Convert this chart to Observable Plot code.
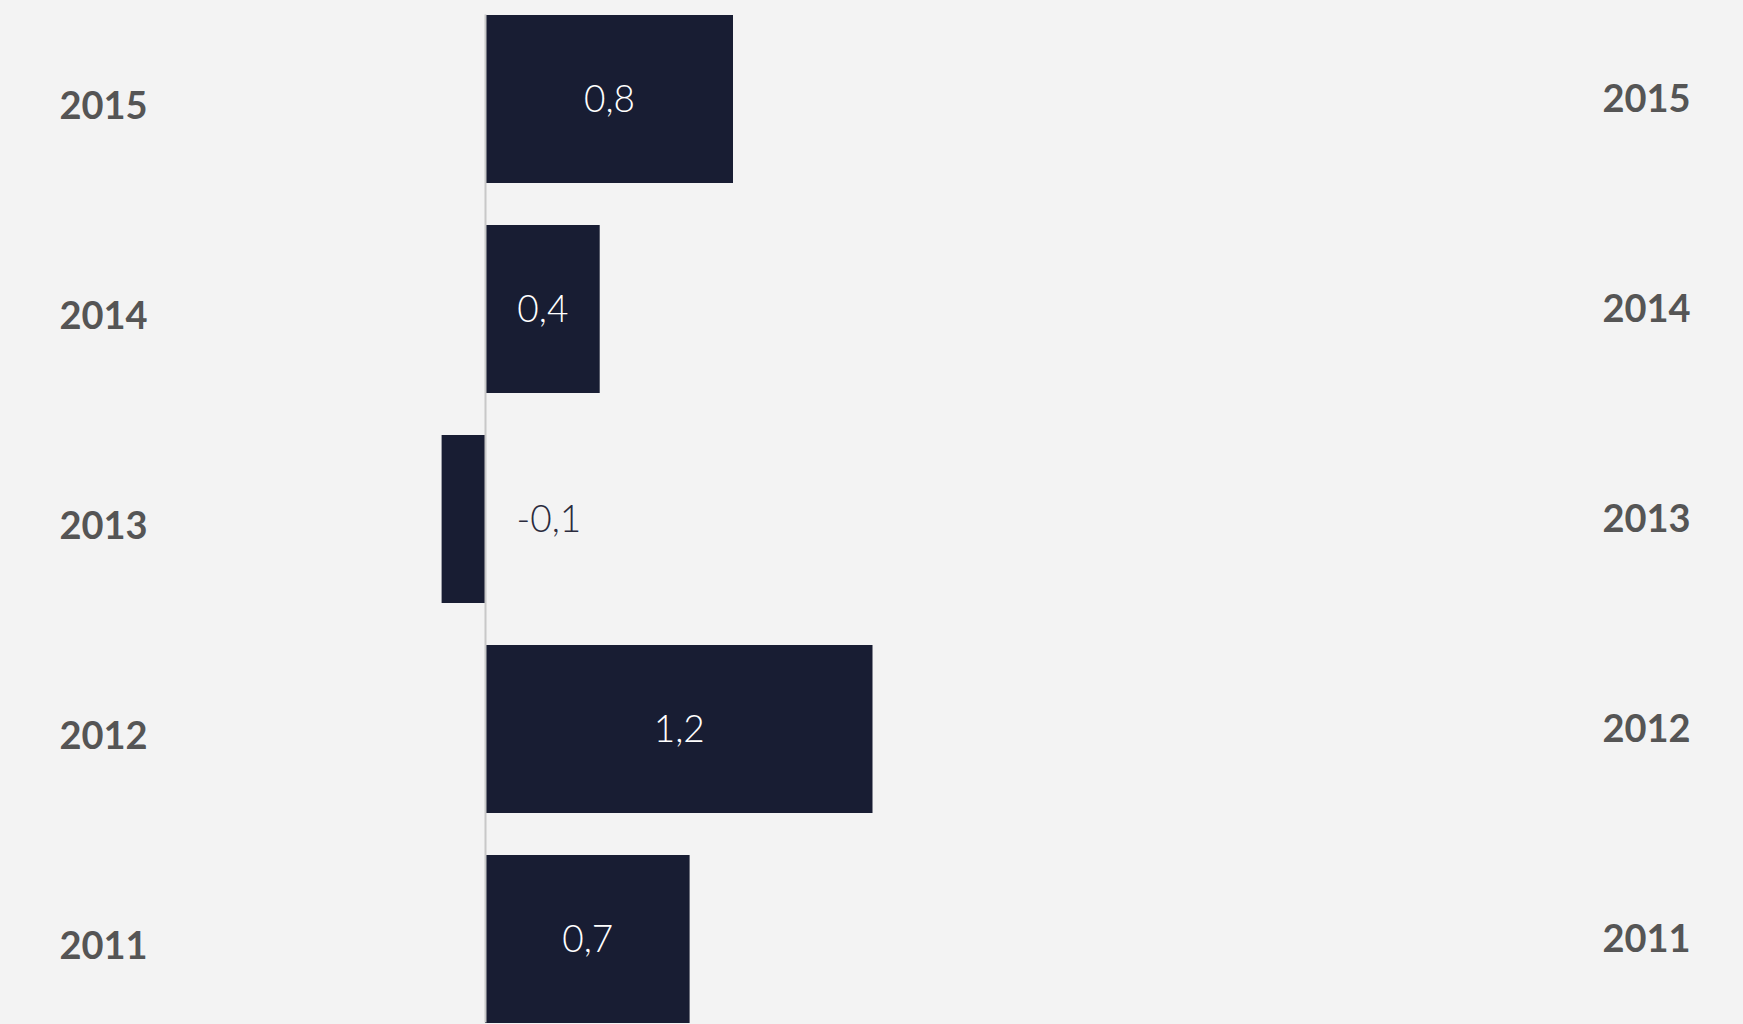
<!DOCTYPE html>
<html>
<head>
<meta charset="utf-8">
<script src="https://cdn.jsdelivr.net/npm/d3@7"></script>
<script src="https://cdn.jsdelivr.net/npm/@observablehq/plot@0.6"></script>
<style>
  html, body { margin: 0; padding: 0; background: #f3f3f3; overflow: hidden; }
  #chart svg { display: block; }
</style>
</head>
<body>
<div id="chart"></div>
<script>
const years = ["2015", "2014", "2013", "2012", "2011"];
const values = [0.80, 0.37, -0.14, 1.25, 0.66];
const valueLabels = ["0,8", "0,4", "-0,1", "1,2", "0,7"];

const data = years.map((y, i) => ({ year: y, value: values[i], label: valueLabels[i] }));

const barColor = "#181d33";
const yearColor = "#555555";

const chart = Plot.plot({
  width: 1743,
  height: 1024,
  marginTop: 14.5,
  marginBottom: 1.5,
  marginLeft: 175,
  marginRight: 18,
  style: { background: "#f3f3f3", fontFamily: "Lato, 'Open Sans', sans-serif" },
  x: { domain: [-1, 4], axis: null },
  y: { domain: years, paddingInner: 0.2, paddingOuter: 0, axis: null, label: null },
  marks: [
    Plot.barX(data, { y: "year", x: "value", fill: barColor }),
    Plot.ruleX([0], { stroke: "#c8c8c8", strokeWidth: 2 }),
    Plot.text(data.filter(d => d.value >= 0), {
      y: "year", x: d => d.value / 2, text: "label",
      fill: "white", fontSize: 37, fontWeight: 300, dy: 1
    }),
    Plot.text(data.filter(d => d.value < 0), {
      y: "year", x: () => 0, text: "label", textAnchor: "start", dx: 31, dy: 1,
      fill: "#2b2b3d", fontSize: 37, fontWeight: 300
    }),
    Plot.axisY({ anchor: "left", label: null, tickSize: 0, tickPadding: 0, textAnchor: "start", dx: -116, dy: 7.5,
      fontSize: 38, fontWeight: 700, fill: yearColor }),
    Plot.axisY({ anchor: "right", label: null, tickSize: 0, tickPadding: 0, textAnchor: "start", dx: -123,
      fontSize: 38, fontWeight: 700, fill: yearColor })
  ]
});
document.getElementById("chart").append(chart);
</script>
</body>
</html>
